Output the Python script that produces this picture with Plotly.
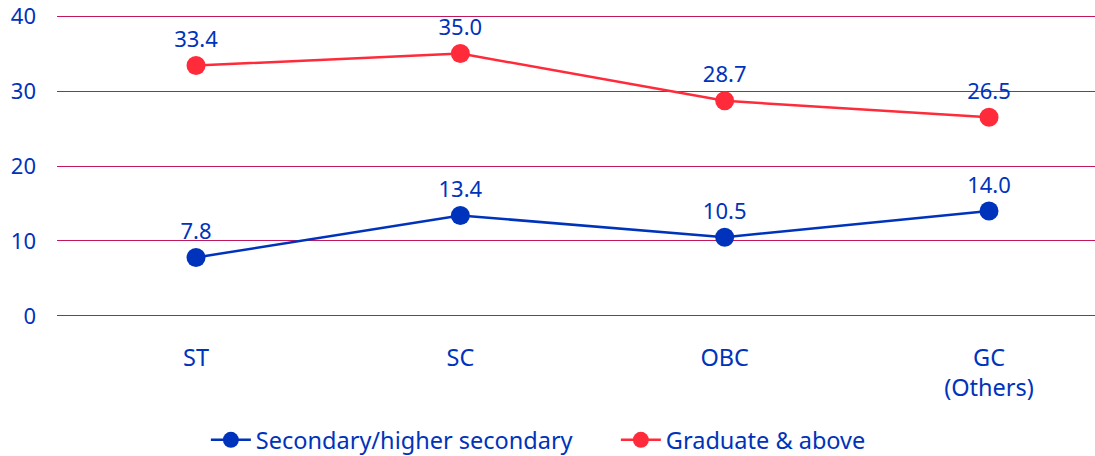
import plotly.graph_objects as go

categories = ["ST", "SC", "OBC", "GC<br>(Others)"]
secondary = [7.8, 13.4, 10.5, 14.0]
graduate = [33.4, 35.0, 28.7, 26.5]
y_ticks = [0, 10, 20, 30, 40]

BLUE = "#0033BB"
RED = "#FF2B3A"
FONT = "Noto Sans"
FS = 22

fig = go.Figure()
fig.add_trace(go.Scatter(
    x=categories, y=secondary, name="Secondary/higher secondary",
    mode="lines+markers+text", text=[f"{v:.1f}" for v in secondary],
    textposition="top center", textfont=dict(color=BLUE, size=FS, family=FONT),
    line=dict(color=BLUE, width=2.5), marker=dict(color=BLUE, size=19),
    cliponaxis=False,
))
fig.add_trace(go.Scatter(
    x=categories, y=graduate, name="Graduate & above",
    mode="lines+markers+text", text=[f"{v:.1f}" for v in graduate],
    textposition="top center", textfont=dict(color=BLUE, size=FS, family=FONT),
    line=dict(color=RED, width=2.5), marker=dict(color=RED, size=19),
    cliponaxis=False,
))

fig.update_layout(
    width=1095, height=456,
    margin=dict(l=57, r=0, t=13, b=139),
    plot_bgcolor="white", paper_bgcolor="white",
    font=dict(family=FONT, color=BLUE, size=FS),
    showlegend=True,
    legend=dict(orientation="h", x=0.188, xanchor="left", xref="container",
                y=0.035, yanchor="middle", yref="container",
                font=dict(size=23.5, color=BLUE, family=FONT), itemwidth=40,
                entrywidth=355, entrywidthmode="pixels",
                tracegroupgap=0),
    xaxis=dict(range=[-0.526, 3.401], showgrid=False, zeroline=False,
               showline=False, ticks="", ticklabelstandoff=24,
               tickfont=dict(size=23.5, color=BLUE)),
    yaxis=dict(range=[-0.15, 40.15], tickvals=y_ticks, showgrid=True,
               gridcolor="#C2185B", gridwidth=1, zeroline=False, showline=False,
               ticks="", ticklabelstandoff=20, ticklabeloverflow="allow",
               tickfont=dict(size=FS, color=BLUE)),
)

fig.write_html("out.html", config={"displayModeBar": False},
               post_script="document.body.style.margin='0';")
